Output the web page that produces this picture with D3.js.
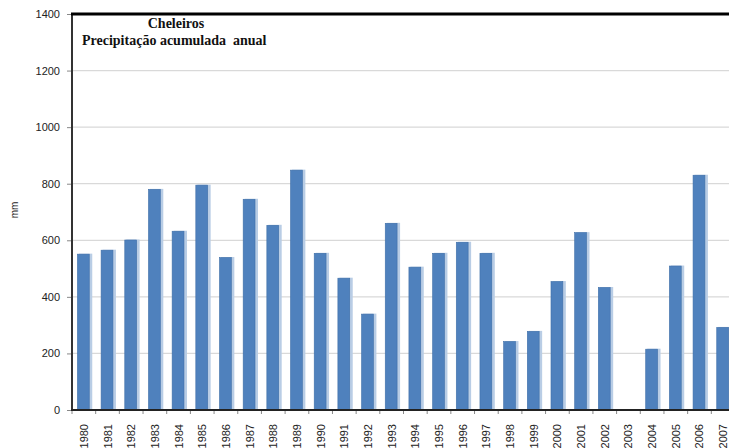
<!DOCTYPE html>
<html>
<head>
<meta charset="utf-8">
<script src="https://cdn.jsdelivr.net/npm/d3@7"></script>
<style>
  body { margin: 0; background: #fff; }
  svg { display: block; }
</style>
</head>
<body>
<div id="viz"></div>
<script>
const WIDTH = 729;
const HEIGHT = 448;
const PLOT = { left: 72, right: 735, top: 14, bottom: 410 };

// annual accumulated precipitation (mm), Cheleiros
const years = ['1980', '1981', '1982', '1983', '1984', '1985', '1986', '1987', '1988', '1989',
  '1990', '1991', '1992', '1993', '1994', '1995', '1996', '1997', '1998', '1999',
  '2000', '2001', '2002', '2003', '2004', '2005', '2006', '2007'];
const precip = [551, 565, 601, 780, 632, 795, 539, 745, 653, 848,
  554, 466, 339, 660, 505, 554, 593, 554, 242, 278,
  454, 627, 433, 0, 215, 509, 830, 292];
const yTicks = [0, 200, 400, 600, 800, 1000, 1200, 1400];

const svg = d3.select('#viz').append('svg')
  .attr('width', WIDTH)
  .attr('height', HEIGHT);

const x = d3.scaleBand()
  .domain(years)
  .range([PLOT.left, PLOT.right])
  .paddingInner(0.5)
  .paddingOuter(0.25);

const y = d3.scaleLinear()
  .domain([0, 1400])
  .range([PLOT.bottom, PLOT.top]);

// gridlines
svg.append('g')
  .selectAll('line')
  .data(yTicks.filter(d => d > 0 && d < 1400))
  .join('line')
    .attr('x1', PLOT.left)
    .attr('x2', WIDTH)
    .attr('y1', d => y(d))
    .attr('y2', d => y(d))
    .attr('stroke', '#d9d9d9')
    .attr('stroke-width', 1.2);

// bars: light edge behind, then main bar
const data = years.map((yr, i) => ({ year: yr, value: precip[i] }));
const bars = svg.append('g');
bars.selectAll('rect.edge')
  .data(data.filter(d => d.value > 0))
  .join('rect')
    .attr('class', 'edge')
    .attr('x', d => x(d.year) + 1)
    .attr('y', d => y(d.value) - 0.5)
    .attr('width', x.bandwidth() + 1.5)
    .attr('height', d => y(0) - y(d.value) + 0.5)
    .attr('fill', '#b9cde5');
bars.selectAll('rect.bar')
  .data(data.filter(d => d.value > 0))
  .join('rect')
    .attr('class', 'bar')
    .attr('x', d => x(d.year) - 0.5)
    .attr('y', d => y(d.value))
    .attr('width', x.bandwidth())
    .attr('height', d => y(0) - y(d.value))
    .attr('fill', '#4f81bd')
    .attr('stroke', '#3f6fa8')
    .attr('stroke-width', 0.6);

// y axis
const yAxis = svg.append('g')
  .attr('transform', `translate(${PLOT.left},0)`)
  .call(d3.axisLeft(y).tickValues(yTicks).tickFormat(d3.format('d')).tickSize(5).tickPadding(7));
yAxis.select('.domain').remove();
yAxis.selectAll('.tick line').attr('stroke', '#888');
yAxis.selectAll('.tick text')
  .attr('font-family', 'Liberation Sans, Arial, sans-serif')
  .attr('font-size', 11)
  .attr('fill', '#222');

// x axis labels
const xAxis = svg.append('g')
  .attr('transform', `translate(0,${PLOT.bottom})`)
  .call(d3.axisBottom(x).tickSize(0).tickPadding(0));
xAxis.select('.domain').remove();
xAxis.selectAll('.tick text')
  .attr('font-family', 'Liberation Sans, Arial, sans-serif')
  .attr('font-size', 11)
  .attr('fill', '#222')
  .attr('text-anchor', 'end')
  .attr('dy', null)
  .attr('y', null)
  .attr('transform', 'translate(4,14) rotate(-90)');

// x boundary ticks
svg.append('g')
  .selectAll('line')
  .data(d3.range(years.length + 1))
  .join('line')
    .attr('x1', i => PLOT.left + i * x.step())
    .attr('x2', i => PLOT.left + i * x.step())
    .attr('y1', PLOT.bottom)
    .attr('y2', PLOT.bottom + 4)
    .attr('stroke', '#888');

// axis lines + top frame
svg.append('line')
  .attr('x1', PLOT.left).attr('x2', PLOT.left)
  .attr('y1', PLOT.top).attr('y2', PLOT.bottom)
  .attr('stroke', '#333').attr('stroke-width', 2);
svg.append('line')
  .attr('x1', PLOT.left - 1).attr('x2', WIDTH)
  .attr('y1', PLOT.bottom).attr('y2', PLOT.bottom)
  .attr('stroke', '#222').attr('stroke-width', 2);
svg.append('line')
  .attr('x1', PLOT.left - 1).attr('x2', WIDTH)
  .attr('y1', PLOT.top).attr('y2', PLOT.top)
  .attr('stroke', '#000').attr('stroke-width', 3);

// y axis title
svg.append('text')
  .attr('transform', 'translate(18,210) rotate(-90)')
  .attr('text-anchor', 'middle')
  .attr('font-family', 'Liberation Sans, Arial, sans-serif')
  .attr('font-size', 10)
  .attr('fill', '#222')
  .text('mm');

// title
svg.append('text')
  .attr('x', 176)
  .attr('y', 28)
  .attr('text-anchor', 'middle')
  .attr('font-family', 'Liberation Serif, Times New Roman, serif')
  .attr('font-weight', 'bold')
  .attr('font-size', 14)
  .attr('fill', '#111')
  .text('Cheleiros');
svg.append('text')
  .attr('x', 82)
  .attr('y', 45)
  .attr('font-family', 'Liberation Serif, Times New Roman, serif')
  .attr('font-weight', 'bold')
  .attr('font-size', 14)
  .attr('fill', '#111')
  .attr('xml:space', 'preserve')
  .text('Precipitação acumulada  anual');
</script>
</body>
</html>
